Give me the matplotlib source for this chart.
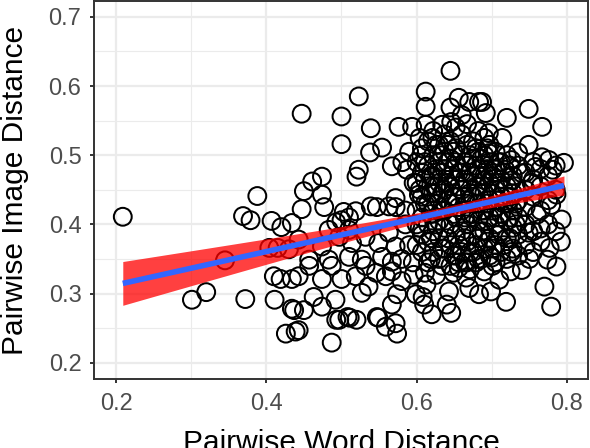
import matplotlib
matplotlib.use('Agg')
import matplotlib.pyplot as plt
import numpy as np
from matplotlib.ticker import MultipleLocator

plt.rcParams['font.family'] = ['Liberation Sans', 'DejaVu Sans']

# sparse points on the left and the edges of the cloud
sparse_pts = [
    (0.209, 0.411), (0.301, 0.291), (0.320, 0.302), (0.345, 0.348),
    (0.369, 0.412), (0.379, 0.406), (0.372, 0.292), (0.388, 0.441),
    (0.407, 0.405), (0.410, 0.325), (0.419, 0.321), (0.411, 0.291),
    (0.415, 0.366), (0.420, 0.396), (0.404, 0.366),
    (0.426, 0.242), (0.439, 0.245), (0.434, 0.278), (0.447, 0.560),
    (0.450, 0.448), (0.447, 0.422), (0.461, 0.462), (0.430, 0.364),
    (0.443, 0.325), (0.434, 0.321), (0.457, 0.340), (0.474, 0.321),
    (0.487, 0.340), (0.500, 0.321), (0.519, 0.325), (0.532, 0.340),
    (0.546, 0.330), (0.559, 0.325), (0.536, 0.310), (0.527, 0.301),
    (0.463, 0.295), (0.474, 0.281), (0.450, 0.276), (0.437, 0.276),
    (0.492, 0.291), (0.497, 0.262), (0.511, 0.265), (0.520, 0.262),
    (0.549, 0.265), (0.559, 0.252), (0.572, 0.257), (0.443, 0.247),
    (0.487, 0.229), (0.443, 0.378), (0.474, 0.368), (0.497, 0.382),
    (0.514, 0.373), (0.532, 0.382), (0.549, 0.373), (0.563, 0.388),
    (0.572, 0.368), (0.457, 0.349), (0.483, 0.349), (0.510, 0.353),
    (0.527, 0.349), (0.554, 0.353), (0.567, 0.346), (0.500, 0.406),
    (0.510, 0.392), (0.483, 0.392), (0.434, 0.402),
    (0.474, 0.469), (0.474, 0.443), (0.477, 0.425), (0.493, 0.403),
    (0.500, 0.556), (0.500, 0.516), (0.503, 0.418), (0.510, 0.410),
    (0.519, 0.419), (0.523, 0.585), (0.523, 0.479), (0.520, 0.469),
    (0.539, 0.539), (0.538, 0.504), (0.539, 0.426), (0.547, 0.425),
    (0.554, 0.511), (0.563, 0.426), (0.567, 0.484), (0.574, 0.242),
    (0.508, 0.266), (0.547, 0.266), (0.493, 0.262),
    (0.572, 0.425), (0.567, 0.332), (0.580, 0.318), (0.574, 0.299),
    (0.567, 0.284), (0.596, 0.327), (0.599, 0.299), (0.610, 0.284),
    (0.613, 0.313), (0.640, 0.284), (0.646, 0.272), (0.643, 0.303),
    (0.626, 0.327), (0.666, 0.323), (0.670, 0.308), (0.683, 0.299),
    (0.656, 0.337), (0.679, 0.345), (0.608, 0.295), (0.620, 0.270),
    (0.699, 0.303), (0.719, 0.288), (0.779, 0.281), (0.770, 0.310),
    (0.786, 0.339), (0.792, 0.375), (0.793, 0.407), (0.774, 0.349),
    (0.740, 0.334), (0.725, 0.332), (0.700, 0.352), (0.690, 0.332),
    (0.726, 0.360), (0.749, 0.388), (0.765, 0.394), (0.760, 0.414),
    (0.779, 0.428), (0.777, 0.366), (0.750, 0.350), (0.710, 0.320),
    (0.749, 0.567), (0.720, 0.554), (0.767, 0.541), (0.687, 0.577),
    (0.692, 0.561), (0.749, 0.515), (0.776, 0.493), (0.767, 0.497),
    (0.735, 0.504), (0.726, 0.493), (0.714, 0.525), (0.696, 0.532),
    (0.758, 0.483), (0.781, 0.479), (0.740, 0.474), (0.718, 0.479),
    (0.786, 0.443), (0.696, 0.503), (0.703, 0.474), (0.690, 0.464),
    (0.727, 0.464), (0.753, 0.460), (0.796, 0.489),
    (0.645, 0.622), (0.612, 0.592), (0.612, 0.570), (0.576, 0.541),
    (0.594, 0.541), (0.656, 0.583), (0.670, 0.577), (0.645, 0.569),
    (0.612, 0.544), (0.634, 0.544), (0.646, 0.548), (0.683, 0.577),
    (0.581, 0.490), (0.587, 0.479), (0.596, 0.460), (0.590, 0.505),
    (0.606, 0.500), (0.572, 0.438), (0.603, 0.443), (0.621, 0.525),
    (0.660, 0.558), (0.585, 0.400), (0.590, 0.370), (0.580, 0.350),
    (0.595, 0.345), (0.585, 0.420),
]

# dense core of the cloud, read column by column
core_x = [0.600, 0.607, 0.615, 0.622, 0.630, 0.637, 0.645, 0.652, 0.660,
          0.667, 0.675, 0.682, 0.690, 0.697, 0.705, 0.712, 0.720, 0.728,
          0.735, 0.745, 0.755, 0.765, 0.775, 0.785]
core_y = [
    [0.37, 0.40, 0.42, 0.46, 0.49],
    [0.36, 0.385, 0.41, 0.44, 0.475, 0.51],
    [0.345, 0.375, 0.40, 0.43, 0.455, 0.485, 0.52],
    [0.36, 0.39, 0.42, 0.445, 0.47, 0.50, 0.535],
    [0.35, 0.38, 0.405, 0.435, 0.46, 0.49, 0.515],
    [0.365, 0.395, 0.42, 0.45, 0.48, 0.505, 0.53],
    [0.34, 0.37, 0.40, 0.43, 0.455, 0.47, 0.495, 0.52],
    [0.355, 0.385, 0.41, 0.44, 0.465, 0.49, 0.51, 0.54],
    [0.36, 0.39, 0.42, 0.45, 0.475, 0.50, 0.53],
    [0.345, 0.375, 0.40, 0.43, 0.46, 0.485, 0.515, 0.545],
    [0.36, 0.385, 0.415, 0.44, 0.47, 0.495, 0.52],
    [0.35, 0.38, 0.405, 0.43, 0.455, 0.48, 0.505, 0.535],
    [0.365, 0.39, 0.42, 0.445, 0.47, 0.50, 0.525],
    [0.355, 0.38, 0.41, 0.435, 0.46, 0.49, 0.515],
    [0.345, 0.37, 0.40, 0.425, 0.45, 0.48, 0.505],
    [0.36, 0.39, 0.415, 0.44, 0.465, 0.49],
    [0.35, 0.38, 0.405, 0.43, 0.455, 0.50],
    [0.365, 0.395, 0.42, 0.445, 0.47],
    [0.355, 0.385, 0.41, 0.435, 0.485],
    [0.37, 0.40, 0.425, 0.45, 0.475],
    [0.36, 0.39, 0.44, 0.465, 0.49],
    [0.375, 0.42, 0.455, 0.48],
    [0.40, 0.435, 0.47],
    [0.39, 0.45, 0.485],
]

# second, staggered layer of the core (the darkest part of the cloud)
core2_x = [0.604, 0.611, 0.619, 0.626, 0.634, 0.641, 0.649, 0.656, 0.664,
           0.671, 0.679, 0.686, 0.694, 0.701, 0.709, 0.716, 0.724, 0.732]
core2_y = [
    [0.395, 0.45, 0.525],
    [0.33, 0.43, 0.465, 0.49],
    [0.38, 0.415, 0.445, 0.47, 0.35],
    [0.40, 0.43, 0.455, 0.48, 0.515],
    [0.365, 0.42, 0.445, 0.475, 0.50, 0.34],
    [0.38, 0.435, 0.46, 0.49, 0.515],
    [0.355, 0.415, 0.44, 0.48, 0.505, 0.33],
    [0.37, 0.425, 0.455, 0.475, 0.345],
    [0.38, 0.41, 0.44, 0.465, 0.49, 0.345],
    [0.36, 0.415, 0.445, 0.475, 0.50, 0.335],
    [0.37, 0.43, 0.455, 0.485, 0.51],
    [0.39, 0.42, 0.445, 0.47, 0.495, 0.35],
    [0.375, 0.405, 0.43, 0.48, 0.51],
    [0.365, 0.42, 0.445, 0.47, 0.34],
    [0.385, 0.41, 0.435, 0.46, 0.49],
    [0.37, 0.43, 0.45, 0.475],
    [0.38, 0.41, 0.44, 0.485],
    [0.40, 0.43, 0.455],
]

word_dist = [p[0] for p in sparse_pts]
image_dist = [p[1] for p in sparse_pts]
for cols_x, cols_y in [(core_x, core_y), (core2_x, core2_y)]:
    for cx, ys in zip(cols_x, cols_y):
        for cy in ys:
            word_dist.append(cx)
            image_dist.append(cy)
word_dist = np.array(word_dist)
image_dist = np.array(image_dist)

# linear fit + 95% band (like geom_smooth(method='lm'))
n = len(word_dist)
slope, icpt = np.polyfit(word_dist, image_dist, 1)
resid = image_dist - (icpt + slope * word_dist)
s = np.sqrt(np.sum(resid ** 2) / (n - 2))
xbar = word_dist.mean()
sxx = np.sum((word_dist - xbar) ** 2)
xs = np.linspace(word_dist.min(), word_dist.max(), 80)
yfit = icpt + slope * xs
se = s * np.sqrt(1.0 / n + (xs - xbar) ** 2 / sxx)
tq = 1.967

fig = plt.figure(figsize=(5.9, 4.48), dpi=100)
ax = fig.add_axes([94 / 590, 1 - 379 / 448, (588 - 94) / 590, 378 / 448])

ax.scatter(word_dist, image_dist, s=165, facecolors='none', edgecolors='black',
           linewidths=1.45, zorder=3)
ax.fill_between(xs, yfit - tq * se, yfit + tq * se, color='red', alpha=0.75,
                linewidth=0, zorder=4)
ax.plot(xs, yfit, color='#3366FF', lw=4, zorder=5, solid_capstyle='butt')

ax.set_xlim(0.1707, 0.828)
ax.set_ylim(0.1764, 0.723)
ax.xaxis.set_minor_locator(MultipleLocator(0.1))
ax.yaxis.set_minor_locator(MultipleLocator(0.05))
ax.set_xticks([0.2, 0.4, 0.6, 0.8])
ax.set_xticklabels(['0.2', '0.4', '0.6', '0.8'])
ax.set_yticks([0.2, 0.3, 0.4, 0.5, 0.6, 0.7])
ax.set_yticklabels(['0.2', '0.3', '0.4', '0.5', '0.6', '0.7'])

ax.grid(which='major', color='#EBEBEB', lw=1.6, zorder=0)
ax.grid(which='minor', color='#EBEBEB', lw=0.8, zorder=0)
ax.set_axisbelow(True)
for sp in ax.spines.values():
    sp.set_color('#333333')
    sp.set_linewidth(1.4)
ax.tick_params(which='major', length=3, width=1.4, color='#333333',
               labelsize=17, labelcolor='#4D4D4D')
ax.tick_params(axis='x', which='major', pad=7)
ax.tick_params(axis='y', which='major', pad=6)
ax.tick_params(which='minor', length=0)

# the reference crops the bottom of the x title at the figure edge
ax.set_xlabel('Pairwise Word Distance', fontsize=21.5, color='black', labelpad=10)
ax.set_ylabel('Pairwise Image Distance', fontsize=21.5, color='black', labelpad=14)

fig.savefig('out.png', dpi=100, facecolor='white')
